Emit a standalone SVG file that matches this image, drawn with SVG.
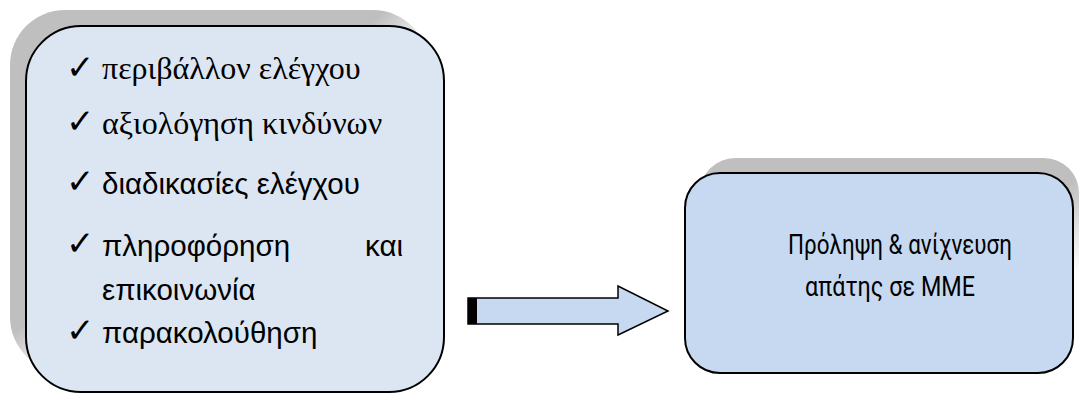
<svg xmlns="http://www.w3.org/2000/svg" width="1080" height="394" viewBox="0 0 1080 394">
  <defs>
    <linearGradient id="shadowFadeL" x1="0" y1="0" x2="1" y2="1">
      <stop offset="0" stop-color="#bfbfbf"/>
      <stop offset="0.45" stop-color="#bfbfbf"/>
      <stop offset="0.55" stop-color="#bfbfbf" stop-opacity="0"/>
    </linearGradient>
    <linearGradient id="shadowFadeR" x1="0" y1="0" x2="1" y2="1">
      <stop offset="0" stop-color="#bfbfbf"/>
      <stop offset="0.55" stop-color="#bfbfbf"/>
      <stop offset="0.78" stop-color="#bfbfbf" stop-opacity="0"/>
    </linearGradient>
    <style>
      .box { stroke: #000; stroke-width: 2; }
      .left { fill: #dce6f2; }
      .right { fill: #c6d9f1; }
      .serif { font-family: "Liberation Serif", "Times New Roman", serif; font-size: 32px; fill: #000; }
      .sans { font-family: "Liberation Sans", Arial, sans-serif; font-size: 29.5px; fill: #000; }
      .check { font-family: "DejaVu Sans", sans-serif; font-size: 34px; fill: #000; }
      .label { font-family: Roboto, "Noto Sans", sans-serif; font-size: 28px; fill: #000; }
      .arrow { fill: #c6d9f1; stroke: #000; stroke-width: 1.5; stroke-linejoin: miter; }
    </style>
  </defs>

  <!-- list of control components -->
  <g id="components">
    <rect x="10" y="10" width="418" height="362" rx="55" ry="55" fill="url(#shadowFadeL)"/>
    <rect class="box left" x="26" y="26" width="418" height="366" rx="55" ry="55"/>
    <text class="check" x="66" y="79">✓</text>
    <text class="serif" x="102" y="79">περιβάλλον ελέγχου</text>
    <text class="check" x="66" y="133">✓</text>
    <text class="serif" x="102" y="134">αξιολόγηση κινδύνων</text>
    <text class="check" x="66" y="193">✓</text>
    <text class="sans" x="102" y="194">διαδικασίες ελέγχου</text>
    <text class="check" x="66" y="255">✓</text>
    <text class="sans" x="102" y="256">πληροφόρηση</text>
    <text class="sans" x="403" y="256" text-anchor="end">και</text>
    <text class="sans" x="102" y="300">επικοινωνία</text>
    <text class="check" x="66" y="342">✓</text>
    <text class="sans" x="102" y="343">παρακολούθηση</text>
  </g>

  <!-- outcome node -->
  <g id="outcome">
    <rect x="700" y="158" width="379" height="202" rx="35" ry="35" fill="url(#shadowFadeR)"/>
    <rect class="box right" x="685" y="173" width="388" height="200" rx="35" ry="35"/>
    <text class="label" x="788" y="254" textLength="224" lengthAdjust="spacingAndGlyphs">Πρόληψη &amp; ανίχνευση</text>
    <text class="label" x="805" y="296" textLength="170" lengthAdjust="spacingAndGlyphs">απάτης σε ΜΜΕ</text>
  </g>

  <!-- block arrow between the two nodes -->
  <g id="connectors">
    <path class="arrow" d="M468,298 H618 V286 L668,311 L618,335 V324 H468 Z"/>
    <rect x="468" y="298" width="9" height="26" fill="#000"/>
  </g>
</svg>
